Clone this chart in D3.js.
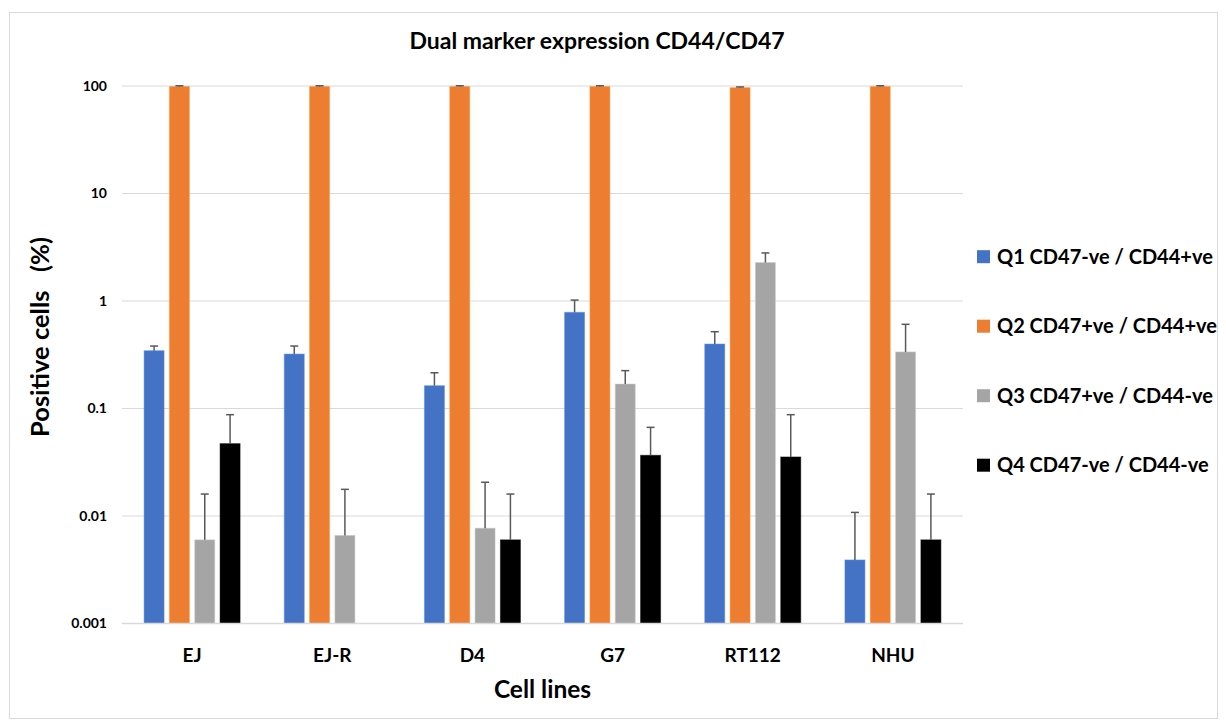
<!DOCTYPE html>
<html>
<head>
<meta charset="utf-8">
<script src="https://cdn.jsdelivr.net/npm/d3@7"></script>
<style>
  html, body { margin: 0; padding: 0; background: #fff; }
  svg { display: block; }
  text { font-family: Lato, "Open Sans", sans-serif; font-weight: bold; fill: #000; white-space: pre; }
</style>
</head>
<body>
<svg id="chart" width="1226" height="725"></svg>
<script>
const categories = ["EJ", "EJ-R", "D4", "G7", "RT112", "NHU"];
const seriesNames = ["Q1 CD47-ve / CD44+ve", "Q2 CD47+ve / CD44+ve", "Q3 CD47+ve / CD44-ve", "Q4 CD47-ve / CD44-ve"];
const seriesColors = ["#4472C4", "#ED7D31", "#A5A5A5", "#000000"];
// values per series (null = no bar)
const q1Values = [0.345, 0.321, 0.163, 0.785, 0.398, 0.0039];
const q2Values = [99.0, 99.0, 99.0, 99.0, 96.5, 99.0];
const q3Values = [0.0060, 0.0066, 0.0077, 0.169, 2.28, 0.336];
const q4Values = [0.0471, null, 0.0060, 0.0367, 0.0354, 0.0060];
// upper end of error bar per series
const q1ErrTop = [0.381, 0.381, 0.215, 1.02, 0.518, 0.0108];
const q2ErrTop = [100.5, 100.5, 100.5, 100.5, 98.0, 100.5];
const q3ErrTop = [0.016, 0.0177, 0.0206, 0.225, 2.8, 0.607];
const q4ErrTop = [0.0876, null, 0.016, 0.0668, 0.0876, 0.016];
const yTicks = [0.001, 0.01, 0.1, 1, 10, 100];
const yTickLabels = ["0.001", "0.01", "0.1", "1", "10", "100"];

const allValues = [q1Values, q2Values, q3Values, q4Values];
const allErr = [q1ErrTop, q2ErrTop, q3ErrTop, q4ErrTop];

const svg = d3.select("#chart");
const pLeft = 122, pRight = 963, pTop = 86, pBottom = 623.5;

svg.append("rect").attr("x", 9.5).attr("y", 12.5).attr("width", 1208).attr("height", 706)
  .attr("fill", "#fff").attr("stroke", "#d9d9d9").attr("stroke-width", 1);

const x0 = d3.scaleBand().domain(categories).range([pLeft, pRight]).padding(0);
const x1 = d3.scaleBand().domain(d3.range(4)).range([-48, 48]).paddingInner(0.21).paddingOuter(0);
const y = d3.scaleLog().domain([0.001, 100]).range([pBottom, pTop]);

// gridlines
svg.append("g").selectAll("line").data(yTicks.slice(1)).join("line")
  .attr("x1", pLeft).attr("x2", pRight)
  .attr("y1", d => y(d)).attr("y2", d => y(d))
  .attr("stroke", "#d9d9d9").attr("stroke-width", 1);

// y tick labels
svg.append("g").selectAll("text").data(yTicks).join("text")
  .attr("x", 107).attr("y", d => y(d)).attr("dy", "0.35em")
  .attr("text-anchor", "end").attr("font-size", 14)
  .text((d, i) => yTickLabels[i]);

// bars
const barData = [];
allValues.forEach((vals, s) => vals.forEach((v, c) => {
  if (v !== null) barData.push({ s, c, v, e: allErr[s][c] });
}));
svg.append("g").selectAll("rect").data(barData).join("rect")
  .attr("x", d => x0(categories[d.c]) + x0.bandwidth() / 2 + x1(d.s))
  .attr("width", x1.bandwidth())
  .attr("y", d => y(d.v))
  .attr("height", d => y(0.001) - y(d.v))
  .attr("fill", d => seriesColors[d.s])
  .attr("stroke", d => d3.color(seriesColors[d.s]).brighter(0.6))
  .attr("stroke-opacity", 0.5)
  .attr("stroke-width", 1);

// error bars
const eg = svg.append("g").attr("stroke", "#595959").attr("stroke-width", 1.5);
barData.filter(d => d.e !== null).forEach(d => {
  const cx = x0(categories[d.c]) + x0.bandwidth() / 2 + x1(d.s) + x1.bandwidth() / 2;
  eg.append("line").attr("x1", cx).attr("x2", cx).attr("y1", y(d.v)).attr("y2", y(d.e));
  eg.append("line").attr("x1", cx - 4).attr("x2", cx + 4).attr("y1", y(d.e)).attr("y2", y(d.e));
});

// x axis line
svg.append("line").attr("x1", pLeft).attr("x2", pRight).attr("y1", pBottom).attr("y2", pBottom)
  .attr("stroke", "#d9d9d9").attr("stroke-width", 1.5);

// x labels
svg.append("g").selectAll("text").data(categories).join("text")
  .attr("x", d => x0(d) + x0.bandwidth() / 2).attr("y", 661.5)
  .attr("text-anchor", "middle").attr("font-size", 19)
  .text(d => d);

// title
svg.append("text").attr("x", 597).attr("y", 49).attr("text-anchor", "middle")
  .attr("font-size", 23).text("Dual marker expression CD44/CD47");

// axis titles
svg.append("text").attr("x", (pLeft + pRight) / 2).attr("y", 698).attr("text-anchor", "middle")
  .attr("font-size", 24.5).text("Cell lines");
svg.append("text").attr("transform", "translate(49,337) rotate(-90)").attr("text-anchor", "middle")
  .attr("font-size", 25.5).text("Positive cells   (%)");

// legend
const lg = svg.append("g");
seriesNames.forEach((name, i) => {
  const cy = 256.7 + i * 69.5;
  lg.append("rect").attr("x", 977).attr("y", cy - 6.5).attr("width", 13).attr("height", 13)
    .attr("fill", seriesColors[i]);
  lg.append("text").attr("x", 997).attr("y", cy).attr("dy", "0.35em")
    .attr("font-size", 20).text(name);
});
</script>
</body>
</html>
